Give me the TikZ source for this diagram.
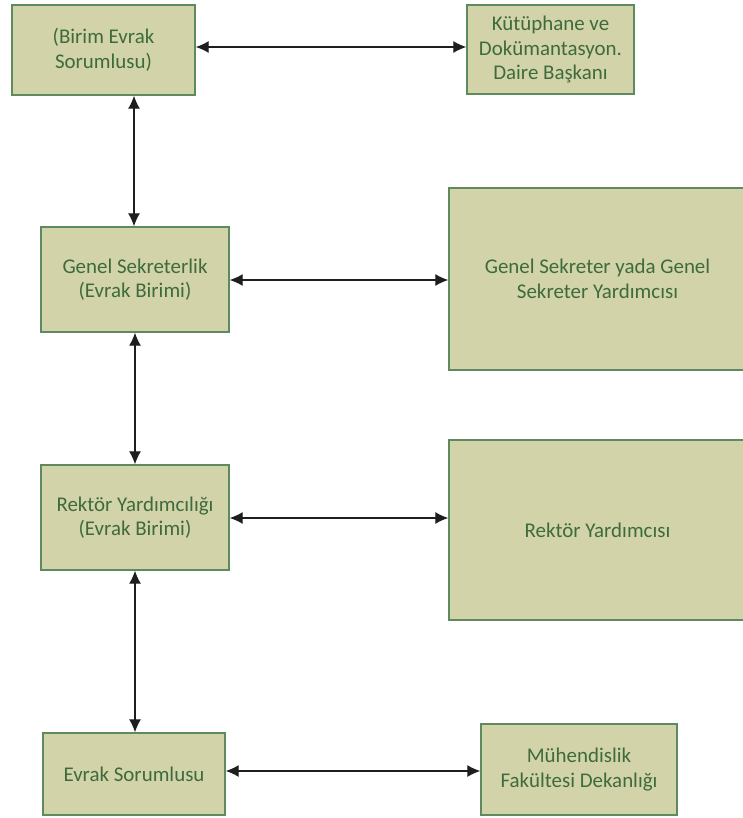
\documentclass[tikz,border=0pt]{standalone}
\usepackage{fontspec}
\setmainfont{Carlito}
\usepackage{xcolor}
\usetikzlibrary{arrows.meta}
\definecolor{olivebg}{HTML}{D3D3A9}
\definecolor{boxedge}{HTML}{5F8A5F}
\definecolor{boxtext}{HTML}{3D6B3D}
\definecolor{linkgray}{HTML}{1E1E1E}
\tikzset{
  >={Latex[length=13bp,width=12bp]},
  every node/.style={font=\fontsize{21}{24.5}\selectfont,text=boxtext},
  unit/.style={draw=boxedge,line width=1.4bp,fill=olivebg,align=center,inner sep=2bp},
  link/.style={<->,line width=1.2bp,draw=linkgray}
}
\begin{document}
\begin{tikzpicture}[x=1bp,y=-1bp]
  \useasboundingbox (0,0) rectangle (743,818);
  % left column
  \node[unit,minimum width=183bp,minimum height=90bp] (birim) at (103.5,50) {(Birim Evrak\\Sorumlusu)};
  \node[unit,minimum width=188bp,minimum height=105bp] (genel) at (135,279.5) {Genel Sekreterlik\\(Evrak Birimi)};
  \node[unit,minimum width=188bp,minimum height=105bp] (rektorluk) at (135,517.5) {Rektör Yardımcılığı\\(Evrak Birimi)};
  \node[unit,minimum width=182bp,minimum height=82bp] (evrak) at (134,774) {Evrak Sorumlusu};
  % right column
  \node[unit,minimum width=167bp,minimum height=89bp] (kutuphane) at (550.5,49.5) {Kütüphane ve\\Dokümantasyon.\\Daire Başkanı};
  \node[unit,minimum width=297bp,minimum height=182bp] (sekreter) at (597.5,279) {Genel Sekreter yada Genel\\Sekreter Yardımcısı};
  \node[unit,minimum width=297bp,minimum height=180bp] (rektor) at (597.5,530) {Rektör Yardımcısı};
  \node[unit,minimum width=196bp,minimum height=91bp] (dekanlik) at (579,769.5) {Mühendislik\\Fakültesi Dekanlığı};

  \draw[link] (birim.east |- 0,47) -- (kutuphane.west |- 0,47);
  \draw[link] (genel.east |- 0,280) -- (sekreter.west |- 0,280);
  \draw[link] (rektorluk.east |- 0,518) -- (rektor.west |- 0,518);
  \draw[link] (evrak.east |- 0,771) -- (dekanlik.west |- 0,771);
  \draw[link] (birim.south -| 134,0) -- (genel.north -| 134,0);
  \draw[link] (genel.south -| 135,0) -- (rektorluk.north -| 135,0);
  \draw[link] (rektorluk.south -| 135,0) -- (evrak.north -| 135,0);
\end{tikzpicture}
\end{document}
